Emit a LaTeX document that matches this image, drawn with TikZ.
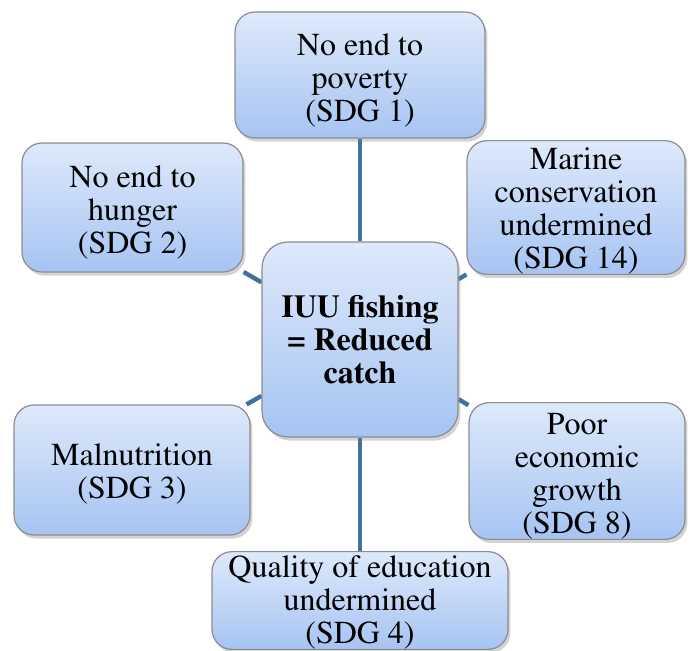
\documentclass[tikz,border=0pt]{standalone}
\usepackage[T1]{fontenc}
\usepackage{times}
\definecolor{boxtop}{RGB}{222, 233, 251}
\definecolor{boxbot}{RGB}{166, 196, 242}
\definecolor{boxline}{RGB}{140, 140, 140}
\definecolor{linkblue}{RGB}{65, 113, 156}
\usetikzlibrary{shadows, backgrounds}
\newcommand{\lowr}[1][16pt]{\rule{0pt}{#1}}
\tikzset{
  sdgbox/.style={draw=boxline, line width=0.6pt, top color=boxtop, bottom color=boxbot,
    rounded corners=10pt, align=center, inner sep=0pt,
    drop shadow={opacity=0.35, shadow xshift=1.2pt, shadow yshift=-1.8pt},
    font=\rmfamily\fontsize{16}{16.5}\selectfont},
  link/.style={draw=linkblue, line width=2.2pt}
}

\begin{document}
\begin{tikzpicture}[x=1pt, y=1pt]
  \useasboundingbox (0, 0) rectangle (350, 325);

  % The centre
  \node[sdgbox, rounded corners=13pt, minimum width=98pt, minimum height=97.5pt, font=\rmfamily\bfseries\fontsize{16}{16.5}\selectfont] (iuu) at (180, 155.25) {IUU fishing\\= Reduced\\catch};

  % SDG boxes
  \node[sdgbox, minimum width=125pt, minimum height=63pt] (pov) at (180, 287.5) {\lowr No end to\\poverty\\(SDG 1)};
  \node[sdgbox, minimum width=110.5pt, minimum height=64.5pt] (hun) at (66.25, 221.25) {\lowr No end to\\hunger\\(SDG 2)};
  \node[sdgbox, minimum width=109pt, minimum height=64.5pt] (mar) at (288, 221.25) {\lowr[14.5pt]Marine\\conservation\\undermined\\(SDG 14)};
  \node[sdgbox, minimum width=118pt, minimum height=65pt] (mal) at (66, 90) {\lowr[15pt]Malnutrition\\(SDG 3)};
  \node[sdgbox, minimum width=108pt, minimum height=66pt] (eco) at (288.5, 89.5) {\lowr Poor\\economic\\growth\\(SDG 8)};
  \node[sdgbox, minimum width=148pt, minimum height=48.5pt] (edu) at (180, 24.75) {\lowr[13pt]Quality of education\\undermined\\(SDG 4)};

  % Links
  \begin{scope}[on background layer]
    \foreach \n in {pov, hun, mar, mal, eco, edu}
      \draw[link] (iuu) -- (\n);
  \end{scope}
\end{tikzpicture}
\end{document}
